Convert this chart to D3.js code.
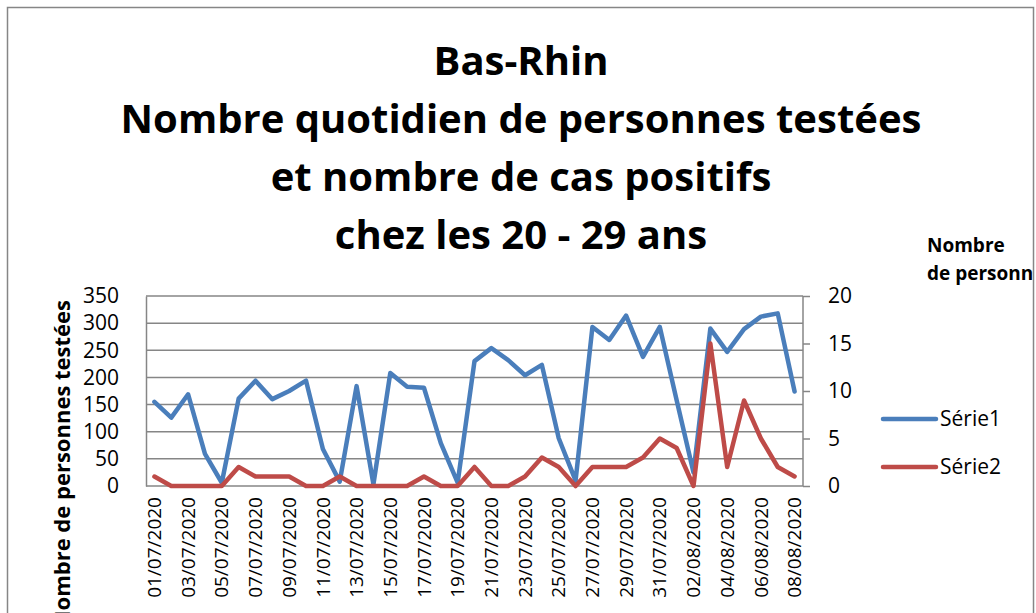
<!DOCTYPE html>
<html>
<head>
<meta charset="utf-8">
<script src="https://cdn.jsdelivr.net/npm/d3@7"></script>
<style>
  body { margin: 0; background: #fff; }
  svg { display: block; font-family: "Open Sans", sans-serif; }
</style>
</head>
<body>
<div id="chart"></div>
<script>

// dates, one per day from 01/07/2020 to 08/08/2020
const dates = ["01/07/2020","02/07/2020","03/07/2020","04/07/2020","05/07/2020","06/07/2020",
  "07/07/2020","08/07/2020","09/07/2020","10/07/2020","11/07/2020","12/07/2020","13/07/2020",
  "14/07/2020","15/07/2020","16/07/2020","17/07/2020","18/07/2020","19/07/2020","20/07/2020",
  "21/07/2020","22/07/2020","23/07/2020","24/07/2020","25/07/2020","26/07/2020","27/07/2020",
  "28/07/2020","29/07/2020","30/07/2020","31/07/2020","01/08/2020","02/08/2020","03/08/2020",
  "04/08/2020","05/08/2020","06/08/2020","07/08/2020","08/08/2020"];

// Série1 : personnes testées (left axis)
const serie1 = [155,126,169,59,6,161,194,160,175,194,68,8,184,3,208,183,181,79,6,230,
  254,232,204,223,88,10,293,269,314,238,293,158,25,290,247,289,312,318,174];

// Série2 : cas positifs (right axis)
const serie2 = [1,0,0,0,0,2,1,1,1,0,0,1,0,0,0,0,1,0,0,2,
  0,0,1,3,2,0,2,2,2,3,5,4,0,15,2,9,5,2,1];

const leftTicks = [0,50,100,150,200,250,300,350];
const rightTicks = [0,5,10,15,20];
const titleLines = ["Bas-Rhin", "Nombre quotidien de personnes testées",
  "et nombre de cas positifs", "chez les 20 - 29 ans"];

const width = 1036, height = 613;
const plot = {left: 146, right: 803, top: 296, bottom: 486};
const blue = "#4a7ebb", red = "#be4b48", grey = "#868686";

const svg = d3.select("#chart")
    .append("svg")
    .attr("width", width)
    .attr("height", height);

svg.append("defs").append("clipPath")
    .attr("id", "clip-border")
    .append("rect")
    .attr("x", 8).attr("y", 8)
    .attr("width", 1025).attr("height", 620);

// chart border
svg.append("rect")
    .attr("x", 7.5).attr("y", 7.5)
    .attr("width", 1026).attr("height", 640)
    .attr("fill", "none")
    .attr("stroke", grey)
    .attr("stroke-width", 1.5);

// title
svg.append("g")
    .selectAll("text")
    .data(titleLines)
    .enter()
    .append("text")
    .attr("x", 521)
    .attr("y", (d, i) => 75 + i * 58)
    .attr("text-anchor", "middle")
    .attr("font-size", "40px")
    .attr("font-weight", "bold")
    .attr("fill", "#000")
    .text(d => d);

const xScale = d3.scaleBand()
    .domain(dates)
    .range([plot.left, plot.right]);

const yLeft = d3.scaleLinear()
    .domain([0, 350])
    .range([plot.bottom, plot.top]);

const yRight = d3.scaleLinear()
    .domain([0, 20])
    .range([plot.bottom, plot.top]);

// gridlines
svg.append("g")
    .selectAll("line")
    .data(leftTicks.slice(1))
    .enter()
    .append("line")
    .attr("x1", plot.left).attr("x2", plot.right)
    .attr("y1", d => yLeft(d)).attr("y2", d => yLeft(d))
    .attr("stroke", grey)
    .attr("stroke-width", 1.5);

// left axis
const gLeft = svg.append("g")
    .attr("transform", `translate(${plot.left},0)`)
    .call(d3.axisLeft(yLeft).tickValues(leftTicks).tickSize(0).tickPadding(27));
gLeft.select(".domain").attr("stroke", grey).attr("stroke-width", 1.5);
gLeft.selectAll("text").attr("font-size", "21px").attr("fill", "#000")
    .attr("font-family", "Open Sans");

// right axis
const gRight = svg.append("g")
    .attr("transform", `translate(${plot.right},0)`)
    .call(d3.axisRight(yRight).tickValues(rightTicks).tickSize(7).tickPadding(18));
gRight.select(".domain").attr("stroke", grey).attr("stroke-width", 1.5).attr("d", `M0,${plot.top}V${plot.bottom}`);
gRight.selectAll("line").attr("stroke", grey).attr("stroke-width", 1.5);
gRight.selectAll("text").attr("font-size", "21px").attr("fill", "#000")
    .attr("font-family", "Open Sans");

// bottom axis
const gBottom = svg.append("g")
    .attr("transform", `translate(0,${plot.bottom})`)
    .call(d3.axisBottom(xScale)
        .tickValues(dates.filter((d, i) => i % 2 === 0))
        .tickSize(0)
        .tickPadding(0));
gBottom.select(".domain").attr("stroke", grey).attr("stroke-width", 1.5)
    .attr("d", `M${plot.left},0H${plot.right}`);
gBottom.selectAll("text")
    .attr("font-size", "19px")
    .attr("font-family", "Open Sans")
    .attr("fill", "#000")
    .attr("transform", "rotate(-90)")
    .attr("text-anchor", "end")
    .attr("x", -11)
    .attr("y", 0)
    .attr("dy", "0.35em");

// lines
const line1 = d3.line()
    .x((d, i) => xScale(dates[i]) + xScale.bandwidth() / 2)
    .y(d => yLeft(d));

const line2 = d3.line()
    .x((d, i) => xScale(dates[i]) + xScale.bandwidth() / 2)
    .y(d => yRight(d));

svg.append("path")
    .datum(serie1)
    .attr("d", line1)
    .attr("fill", "none")
    .attr("stroke", blue)
    .attr("stroke-width", 4.5)
    .attr("stroke-linejoin", "round")
    .attr("stroke-linecap", "round");

svg.append("path")
    .datum(serie2)
    .attr("d", line2)
    .attr("fill", "none")
    .attr("stroke", red)
    .attr("stroke-width", 4.5)
    .attr("stroke-linejoin", "round")
    .attr("stroke-linecap", "round");

// left axis title (cut by the bottom of the picture)
svg.append("text")
    .attr("transform", "translate(70,300) rotate(-90)")
    .attr("text-anchor", "end")
    .attr("font-size", "22px")
    .attr("font-weight", "bold")
    .attr("fill", "#000")
    .text("Nombre de personnes testées");

// right axis title, clipped by the chart border
const rTitle = svg.append("g").attr("clip-path", "url(#clip-border)");
rTitle.selectAll("text")
    .data(["Nombre", "de personnes cas positifs"])
    .enter()
    .append("text")
    .attr("x", 927)
    .attr("y", (d, i) => 252 + i * 28)
    .attr("font-size", "19px")
    .attr("font-weight", "bold")
    .attr("fill", "#000")
    .text(d => d);

// legend
const legend = svg.append("g")
    .selectAll("g")
    .data([{name: "Série1", color: blue}, {name: "Série2", color: red}])
    .enter()
    .append("g")
    .attr("transform", (d, i) => `translate(0,${419 + i * 48})`);

legend.append("line")
    .attr("x1", 883).attr("x2", 936)
    .attr("stroke", d => d.color)
    .attr("stroke-width", 4.5)
    .attr("stroke-linecap", "round");

legend.append("text")
    .attr("x", 940)
    .attr("dy", "0.35em")
    .attr("font-size", "21px")
    .attr("fill", "#000")
    .text(d => d.name);

</script>
</body>
</html>
